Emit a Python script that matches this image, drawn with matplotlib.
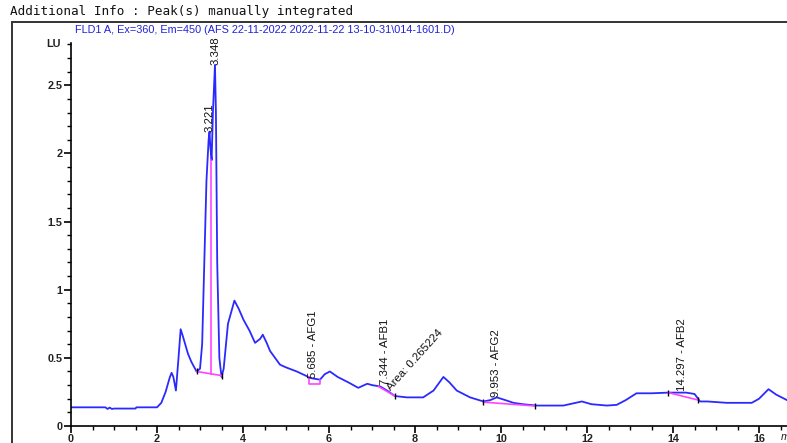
import matplotlib.pyplot as plt
from matplotlib.patches import Rectangle
from matplotlib.ticker import MultipleLocator

# chromatogram trace (min, LU)
time = [0, 0.8, 0.85, 0.9, 0.95, 1.0, 1.5, 1.52, 2.0, 2.1, 2.2, 2.3, 2.34, 2.38,
        2.44, 2.5, 2.55, 2.6, 2.72, 2.8, 2.92, 3.0, 3.05, 3.1, 3.15, 3.2, 3.221,
        3.24, 3.27, 3.3, 3.348, 3.37, 3.4, 3.45, 3.5, 3.55, 3.65, 3.8, 3.9, 4.01,
        4.15, 4.28, 4.4, 4.46, 4.55, 4.63, 4.86, 5.0, 5.25, 5.52, 5.6, 5.79, 5.9,
        6.02, 6.2, 6.45, 6.68, 6.89, 7.0, 7.19, 7.35, 7.53, 7.81, 8.0, 8.19, 8.43,
        8.66, 8.8, 8.97, 9.28, 9.59, 9.75, 9.9, 10.1, 10.29, 10.5, 10.83, 11.45,
        11.88, 12.1, 12.46, 12.69, 12.9, 13.15, 13.5, 13.9, 14.3, 14.5, 14.63,
        14.8, 15.25, 15.83, 16.0, 16.22, 16.4, 16.65]
signal = [0.137, 0.137, 0.125, 0.135, 0.125, 0.128, 0.128, 0.137, 0.137, 0.17,
          0.25, 0.36, 0.39, 0.36, 0.26, 0.50, 0.71, 0.66, 0.53, 0.47, 0.40, 0.42,
          0.6, 1.2, 1.8, 2.1, 2.16, 2.05, 1.95, 2.3, 2.65, 2.3, 1.2, 0.5, 0.36,
          0.42, 0.75, 0.92, 0.86, 0.78, 0.70, 0.61, 0.64, 0.67, 0.61, 0.55, 0.45,
          0.43, 0.40, 0.36, 0.35, 0.34, 0.38, 0.40, 0.36, 0.32, 0.28, 0.31, 0.30,
          0.29, 0.26, 0.22, 0.21, 0.21, 0.21, 0.26, 0.36, 0.32, 0.26, 0.21, 0.18,
          0.19, 0.21, 0.19, 0.17, 0.16, 0.15, 0.15, 0.18, 0.16, 0.15, 0.155, 0.19,
          0.24, 0.24, 0.245, 0.245, 0.235, 0.18, 0.18, 0.17, 0.17, 0.2, 0.27, 0.23,
          0.19]

# integration baselines
base_big_t = [2.92, 3.50]
base_big_y = [0.40, 0.37]
drop_big_t = [3.26, 3.26]
drop_big_y = [0.385, 1.95]
base_afg1_t = [5.54, 5.54, 5.79, 5.79]
base_afg1_y = [0.36, 0.305, 0.305, 0.34]
base_afb1_t = [7.15, 7.53]
base_afb1_y = [0.29, 0.22]
base_afg2_t = [9.59, 10.79]
base_afg2_y = [0.175, 0.147]
base_afb2_t = [13.89, 14.59]
base_afb2_y = [0.245, 0.19]

# peak labels: text, x, y
peak_labels = ["3.221", "3.348", "5.685 - AFG1", "7.344 - AFB1", "9.953 - AFG2", "14.297 - AFB2"]
peak_x = [3.21, 3.37, 5.63, 7.30, 9.88, 14.2]
peak_y = [2.16, 2.65, 0.35, 0.30, 0.215, 0.26]

fig = plt.figure(figsize=(7.87, 4.43), dpi=100)
fig.patches.append(Rectangle((12 / 787, -0.1), 1.0, 1 - 22 / 443 + 0.1,
                             transform=fig.transFigure, fill=False,
                             edgecolor='#333333', linewidth=1.4))
fig.text(10 / 787, 1 - 11 / 443, "Additional Info : Peak(s) manually integrated",
         family='DejaVu Sans Mono', fontsize=9.1, va='center', ha='left', color='#111111')

ax = fig.add_axes([71 / 787, 17 / 443, 1 - 71 / 787, (426 - 43) / 443])
ax.plot(time, signal, color='#2a2aff', linewidth=1.3)
pink = '#ff44ff'
for bt, by in [(base_big_t, base_big_y), (drop_big_t, drop_big_y),
               (base_afg1_t, base_afg1_y), (base_afb1_t, base_afb1_y),
               (base_afg2_t, base_afg2_y), (base_afb2_t, base_afb2_y)]:
    ax.plot(bt, by, color=pink, linewidth=1.2)
# baseline end ticks
tick_t = [2.92, 3.50, 7.53, 9.59, 10.79, 13.89, 14.59]
tick_y = [0.40, 0.37, 0.22, 0.175, 0.147, 0.245, 0.19]
ax.plot(tick_t, tick_y, linestyle='none', marker='|', color='black', markersize=5)

for txt, x, y in zip(peak_labels, peak_x, peak_y):
    ax.text(x, y, txt, rotation=90, ha='center', va='bottom', fontsize=8.2,
            family='Liberation Sans', color='#111111')
ax.text(7.47, 0.25, "Area: 0.265224", rotation=48, rotation_mode='anchor',
        ha='left', va='bottom', fontsize=8.2, family='Liberation Sans', color='#111111')

ax.text(4 / 716, 1.035, "FLD1 A, Ex=360, Em=450 (AFS 22-11-2022 2022-11-22 13-10-31\\014-1601.D)",
        transform=ax.transAxes, fontsize=7.8, family='Liberation Sans', color='#2020dd',
        ha='left', va='center')

ax.set_xlim(0, 16.65)
ax.set_ylim(0, 2.81)
ax.spines['top'].set_visible(False)
ax.spines['right'].set_visible(False)
ax.spines['left'].set_linewidth(1.2)
ax.spines['bottom'].set_linewidth(1.2)
ax.xaxis.set_major_locator(MultipleLocator(2))
ax.xaxis.set_minor_locator(MultipleLocator(0.5))
ax.yaxis.set_minor_locator(MultipleLocator(0.1))
ax.set_yticks([0, 0.5, 1, 1.5, 2, 2.5])
ax.set_yticklabels(['0', '0.5', '1', '1.5', '2', '2.5'])
ax.tick_params(which='major', length=5, width=1.2, labelsize=7.8, pad=1)
ax.tick_params(which='minor', length=3, width=1.0)
for lab in ax.get_xticklabels() + ax.get_yticklabels():
    lab.set_family('Liberation Sans')
    lab.set_fontweight('bold')
    lab.set_color('#222222')
ax.text(-0.015, 2.8, "LU", transform=ax.get_yaxis_transform(), ha='right', va='center',
        fontsize=7.8, family='Liberation Sans', fontweight='bold', color='#222222')
# axis unit sits past the right edge, only partly visible as in the original
ax.text(16.5, -0.08, "min", ha='left', va='center', fontsize=7.8, family='Liberation Sans',
        fontstyle='italic', color='#222222', clip_on=False)

fig.savefig('out.png', dpi=100)
